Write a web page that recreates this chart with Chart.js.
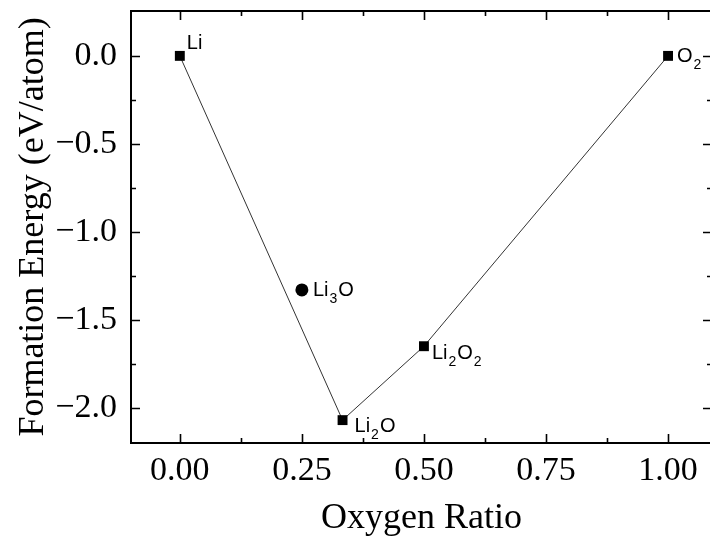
<!DOCTYPE html>
<html>
<head>
<meta charset="utf-8">
<script src="https://cdn.jsdelivr.net/npm/chart.js@4/dist/chart.umd.min.js"></script>
<style>
  html, body { margin: 0; padding: 0; background: #ffffff; overflow: hidden; }
  #wrap { width: 720px; height: 544px; }
</style>
</head>
<body>
<div id="wrap"><canvas id="c" width="720" height="544"></canvas></div>
<script>
// ---- data ----
const xTicks = [0.00, 0.25, 0.50, 0.75, 1.00];
const xMinorTicks = [0.125, 0.375, 0.625, 0.875];
const yTicks = [-2.0, -1.5, -1.0, -0.5, 0.0];
const yMinorTicks = [-1.75, -1.25, -0.75, -0.25];

const hullNames = ["Li", "Li_2O", "Li_2O_2", "O_2"];
const hullX = [0.0, 0.3333, 0.5, 1.0];
const hullY = [0.0, -2.07, -1.65, 0.0];

const offNames = ["Li_3O"];
const offX = [0.25];
const offY = [-1.33];

const xTitle = "Oxygen Ratio";
const yTitle = "Formation Energy (eV/atom)";

// ---- styles (label offsets relative to marker: dx, baseline dy) ----
const labelOffsets = {
  "Li": [7, -7],
  "Li_2O": [12, 12],
  "Li_2O_2": [8, 13],
  "O_2": [9, 6],
  "Li_3O": [11, 6]
};

function drawChem(ctx, text, x, y) {
  const main = '20px "Liberation Sans", Arial, sans-serif';
  const sub = '14px "Liberation Sans", Arial, sans-serif';
  let cx = x;
  let i = 0;
  ctx.textAlign = 'left';
  ctx.textBaseline = 'alphabetic';
  ctx.fillStyle = '#000';
  while (i < text.length) {
    if (text[i] === '_' && i + 1 < text.length) {
      ctx.font = sub;
      cx += 1;
      ctx.fillText(text[i + 1], cx, y + 7);
      cx += ctx.measureText(text[i + 1]).width + 1;
      i += 2;
    } else {
      ctx.font = main;
      ctx.fillText(text[i], cx, y);
      cx += ctx.measureText(text[i]).width;
      i += 1;
    }
  }
}

const labelPlugin = {
  id: 'chemLabels',
  afterDatasetsDraw(chart) {
    const ctx = chart.ctx;
    ctx.save();
    chart.data.datasets.forEach((ds, di) => {
      const meta = chart.getDatasetMeta(di);
      meta.data.forEach((pt, i) => {
        const name = ds.names[i];
        const off = labelOffsets[name] || [8, 6];
        drawChem(ctx, name, pt.x + off[0], pt.y + off[1]);
      });
    });
    ctx.restore();
  }
};

const framePlugin = {
  id: 'frame',
  afterDraw(chart) {
    const ctx = chart.ctx;
    const a = chart.chartArea;
    const xs = chart.scales.x, ys = chart.scales.y;
    ctx.save();
    ctx.strokeStyle = '#000';
    ctx.lineWidth = 2;
    ctx.strokeRect(a.left, a.top, a.right - a.left, a.bottom - a.top);
    ctx.lineWidth = 1.6;
    ctx.beginPath();
    const major = 9, minor = 5;
    xTicks.forEach(v => {
      const p = Math.round(xs.getPixelForValue(v)) + 0.5;
      ctx.moveTo(p, a.bottom); ctx.lineTo(p, a.bottom - major);
      ctx.moveTo(p, a.top); ctx.lineTo(p, a.top + major);
    });
    xMinorTicks.forEach(v => {
      const p = Math.round(xs.getPixelForValue(v)) + 0.5;
      ctx.moveTo(p, a.bottom); ctx.lineTo(p, a.bottom - minor);
      ctx.moveTo(p, a.top); ctx.lineTo(p, a.top + minor);
    });
    yTicks.forEach(v => {
      const p = Math.round(ys.getPixelForValue(v)) + 0.5;
      ctx.moveTo(a.left, p); ctx.lineTo(a.left + major, p);
      ctx.moveTo(a.right, p); ctx.lineTo(a.right - major, p);
    });
    yMinorTicks.forEach(v => {
      const p = Math.round(ys.getPixelForValue(v)) + 0.5;
      ctx.moveTo(a.left, p); ctx.lineTo(a.left + minor, p);
      ctx.moveTo(a.right, p); ctx.lineTo(a.right - minor, p);
    });
    ctx.stroke();
    ctx.restore();
  }
};

const serif = '"Liberation Serif", "Times New Roman", serif';

new Chart(document.getElementById('c'), {
  type: 'scatter',
  data: {
    datasets: [
      {
        names: hullNames,
        data: hullX.map((x, i) => ({ x: x, y: hullY[i] })),
        showLine: true,
        borderColor: '#333333',
        borderWidth: 1,
        tension: 0,
        pointStyle: 'rect',
        pointRadius: 7,
        pointBackgroundColor: '#000',
        pointBorderColor: '#000',
        pointBorderWidth: 0
      },
      {
        names: offNames,
        data: offX.map((x, i) => ({ x: x, y: offY[i] })),
        showLine: false,
        pointStyle: 'circle',
        pointRadius: 6.5,
        pointBackgroundColor: '#000',
        pointBorderColor: '#000',
        pointBorderWidth: 0
      }
    ]
  },
  options: {
    responsive: false,
    animation: false,
    devicePixelRatio: 1,
    layout: { padding: { top: 11, right: 8, left: 0, bottom: 0 } },
    plugins: { legend: { display: false }, tooltip: { enabled: false } },
    scales: {
      x: {
        type: 'linear',
        min: -0.1, max: 1.09,
        grid: { display: false, drawTicks: false },
        border: { display: false },
        afterBuildTicks: s => { s.ticks = xTicks.map(v => ({ value: v })); },
        afterFit: s => { s.height = 101; s.paddingLeft = 0; s.paddingRight = 0; },
        ticks: {
          padding: 8,
          color: '#000',
          font: { family: serif, size: 34 },
          callback: v => Number(v).toFixed(2)
        },
        title: {
          display: true, text: xTitle, color: '#000',
          font: { family: serif, size: 36 },
          padding: { top: 0, bottom: 4 }
        }
      },
      y: {
        type: 'linear',
        min: -2.2, max: 0.255,
        grid: { display: false, drawTicks: false },
        border: { display: false },
        afterBuildTicks: s => { s.ticks = yTicks.map(v => ({ value: v })); },
        afterFit: s => { s.width = 131; s.paddingTop = 0; s.paddingBottom = 0; },
        ticks: {
          padding: 14,
          color: '#000',
          font: { family: serif, size: 34 },
          callback: v => (v < 0 ? '\u2212' : '') + Math.abs(Number(v)).toFixed(1)
        },
        title: {
          display: true, text: yTitle, color: '#000',
          font: { family: serif, size: 36 },
          padding: { top: 12, bottom: 0 }
        }
      }
    }
  },
  plugins: [labelPlugin, framePlugin]
});
</script>
</body>
</html>
